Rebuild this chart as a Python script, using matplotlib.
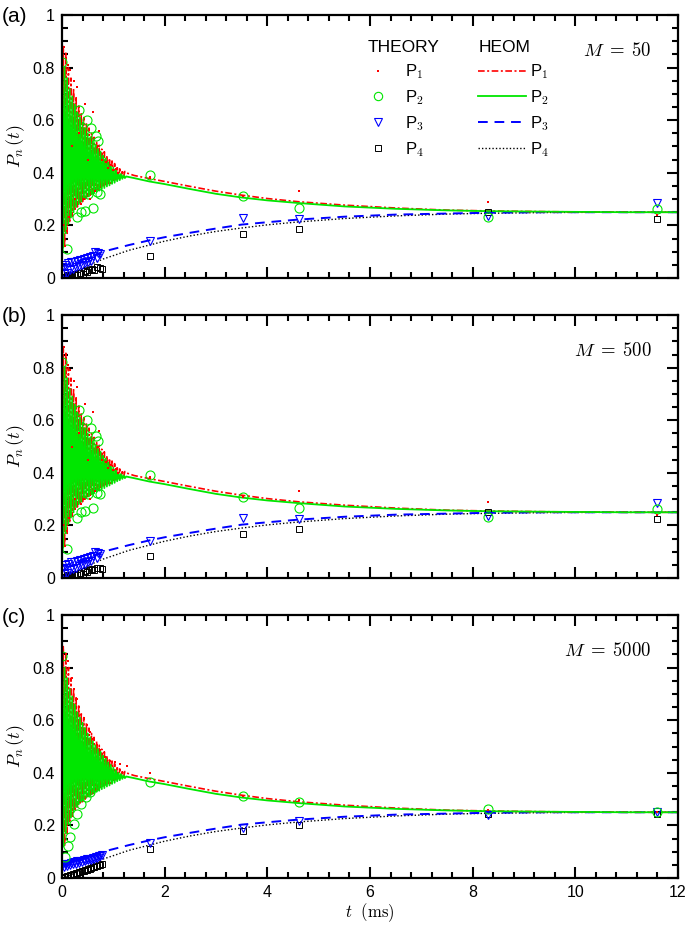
import numpy as np
import matplotlib
matplotlib.use('Agg')
import matplotlib.pyplot as plt
from matplotlib.ticker import MultipleLocator, FuncFormatter
from matplotlib.lines import Line2D

plt.rcParams['font.family'] = ['Liberation Sans', 'DejaVu Sans']
plt.rcParams['mathtext.fontset'] = 'cm'

#-----------------------------------------------------------------------------------------------------------------------
# HEOM curves (same in all panels)
#-----------------------------------------------------------------------------------------------------------------------
t_osc = np.linspace(0, 1.25, 51)
p1_osc = [0.10, 0.88, 0.12, 0.86, 0.17, 0.80, 0.21, 0.76, 0.235, 0.72, 0.255, 0.69, 0.27, 0.66, 0.28, 0.63,
          0.29, 0.61, 0.30, 0.59, 0.31, 0.57, 0.315, 0.55, 0.32, 0.535, 0.33, 0.52, 0.335, 0.505, 0.34, 0.49,
          0.345, 0.48, 0.35, 0.465, 0.355, 0.455, 0.36, 0.445, 0.365, 0.435, 0.37, 0.425, 0.375, 0.415,
          0.38, 0.41, 0.385, 0.405, 0.40]
p2_osc = [0.85, 0.12, 0.80, 0.17, 0.76, 0.205, 0.72, 0.23, 0.69, 0.25, 0.66, 0.27, 0.63, 0.28, 0.61, 0.29,
          0.59, 0.30, 0.57, 0.305, 0.55, 0.31, 0.535, 0.318, 0.52, 0.322, 0.505, 0.328, 0.49, 0.332, 0.48, 0.338,
          0.465, 0.342, 0.455, 0.348, 0.44, 0.352, 0.43, 0.358, 0.42, 0.362, 0.41, 0.368, 0.40, 0.372,
          0.395, 0.377, 0.39, 0.38, 0.386]
t_tail = [1.4, 1.7, 2.0, 2.5, 3.0, 3.5, 4.0, 4.6, 5.5, 6.5, 7.5, 8.3, 9.5, 11.0, 12.0]
p1_tail = [0.39, 0.378, 0.367, 0.348, 0.33, 0.315, 0.302, 0.29, 0.277, 0.266, 0.258, 0.255, 0.252, 0.25, 0.25]
p2_tail = [0.38, 0.367, 0.357, 0.338, 0.32, 0.306, 0.295, 0.285, 0.272, 0.263, 0.257, 0.254, 0.252, 0.25, 0.25]

t_slow = [0, 0.2, 0.4, 0.6, 0.8, 1.0, 1.3, 1.7, 2.0, 2.5, 3.0, 3.5, 4.0, 4.6, 5.5, 6.5, 7.5, 8.3, 9.5, 11.0, 12.0]
p3_heom = [0.045, 0.055, 0.07, 0.085, 0.10, 0.11, 0.125, 0.143, 0.155, 0.172, 0.188, 0.203, 0.212, 0.222,
           0.233, 0.241, 0.245, 0.248, 0.25, 0.25, 0.25]
p4_heom = [0.0, 0.015, 0.035, 0.055, 0.072, 0.085, 0.105, 0.125, 0.14, 0.16, 0.177, 0.19, 0.202, 0.213,
           0.226, 0.236, 0.243, 0.246, 0.249, 0.25, 0.25]

#-----------------------------------------------------------------------------------------------------------------------
# Theory points, panels (a) and (b) (M = 50, 500)
#-----------------------------------------------------------------------------------------------------------------------
t1_ab = [0.02, 0.04, 0.06, 0.08, 0.10, 0.12, 0.14, 0.16, 0.19, 0.23, 0.25, 0.30, 0.34, 0.38, 0.42, 0.45, 0.50,
         0.55, 0.60, 0.65, 0.70, 0.73, 0.78, 0.85, 0.90, 0.95, 1.00, 1.05, 1.10, 1.72, 3.53, 4.62, 8.3, 11.6]
p1_ab = [0.20, 0.88, 0.12, 0.85, 0.18, 0.81, 0.23, 0.79, 0.50, 0.75, 0.30, 0.726, 0.55, 0.28, 0.30, 0.663,
         0.45, 0.30, 0.63, 0.33, 0.50, 0.56, 0.45, 0.44, 0.42, 0.43, 0.41, 0.415, 0.40, 0.385, 0.31, 0.33, 0.29, 0.24]
t2_ab = [0.0, 0.09, 0.29, 0.33, 0.37, 0.45, 0.48, 0.51, 0.56, 0.60, 0.66, 0.68, 0.71, 0.75,
         1.72, 3.53, 4.62, 8.3, 11.6]
p2_ab = [0.82, 0.11, 0.23, 0.64, 0.25, 0.255, 0.60, 0.32, 0.57, 0.265, 0.54, 0.325, 0.52, 0.32,
         0.39, 0.31, 0.265, 0.232, 0.262]
t3_ab = [0.0, 0.03, 0.06, 0.09, 0.12, 0.15, 0.18, 0.21, 0.24, 0.27, 0.30, 0.33, 0.36, 0.39, 0.42, 0.45, 0.48,
         0.51, 0.54, 0.57, 0.60, 0.64, 0.68, 0.71, 0.75, 1.72, 3.53, 4.62, 8.3, 11.6]
p3_ab = [0.04, 0.015, 0.05, 0.02, 0.055, 0.03, 0.06, 0.035, 0.062, 0.04, 0.065, 0.045, 0.07, 0.05, 0.072,
         0.055, 0.075, 0.06, 0.08, 0.065, 0.085, 0.098, 0.075, 0.094, 0.09, 0.14, 0.228, 0.224, 0.235, 0.285]
t4_ab = [0.0, 0.03, 0.06, 0.09, 0.12, 0.15, 0.20, 0.25, 0.30, 0.35, 0.40, 0.45, 0.48, 0.52, 0.58, 0.62, 0.68,
         0.74, 0.77, 1.72, 3.53, 4.62, 8.3, 11.6]
p4_ab = [0.0, 0.005, 0.003, 0.01, 0.006, 0.012, 0.008, 0.015, 0.01, 0.02, 0.015, 0.025, 0.024, 0.03, 0.033,
         0.03, 0.04, 0.037, 0.035, 0.084, 0.167, 0.186, 0.25, 0.224]

#-----------------------------------------------------------------------------------------------------------------------
# Theory points, panel (c) (M = 5000)
#-----------------------------------------------------------------------------------------------------------------------
t1_c = [0.0, 0.07, 0.11, 0.14, 0.19, 0.23, 0.29, 0.33, 0.42, 0.48, 0.55, 0.61, 0.68, 0.74, 0.84, 0.94, 1.03,
        1.13, 1.26, 1.72, 3.53, 4.62, 8.3, 11.6]
p1_c = [0.10, 0.853, 0.825, 0.80, 0.76, 0.72, 0.68, 0.65, 0.61, 0.58, 0.555, 0.53, 0.504, 0.485, 0.46, 0.446,
        0.44, 0.433, 0.427, 0.40, 0.31, 0.295, 0.26, 0.25]
t2_c = [0.0, 0.06, 0.12, 0.16, 0.24, 0.30, 0.38, 0.46, 0.55, 0.63, 0.70, 0.77, 1.72, 3.53, 4.62, 8.3, 11.6]
p2_c = [0.844, 0.08, 0.12, 0.157, 0.205, 0.245, 0.28, 0.307, 0.327, 0.346, 0.36, 0.37, 0.365, 0.31, 0.29,
        0.262, 0.25]
t34_c = [0.0, 0.03, 0.06, 0.09, 0.12, 0.15, 0.18, 0.21, 0.24, 0.27, 0.30, 0.33, 0.36, 0.39, 0.42, 0.45, 0.48,
         0.51, 0.54, 0.57, 0.60, 0.63, 0.66, 0.69, 0.72, 0.75, 0.78, 1.72, 3.53, 4.62, 8.3, 11.6]
p3_c = [0.048, 0.040, 0.052, 0.045, 0.055, 0.049, 0.058, 0.052, 0.060, 0.055, 0.063, 0.058, 0.066, 0.061,
        0.068, 0.064, 0.071, 0.067, 0.074, 0.070, 0.077, 0.073, 0.080, 0.076, 0.083, 0.085, 0.087,
        0.133, 0.19, 0.215, 0.24, 0.25]
p4_c = [0.0, 0.004, 0.004, 0.007, 0.008, 0.010, 0.012, 0.014, 0.016, 0.018, 0.020, 0.022, 0.024, 0.026,
        0.028, 0.030, 0.032, 0.034, 0.036, 0.038, 0.040, 0.042, 0.044, 0.046, 0.048, 0.050, 0.052,
        0.11, 0.177, 0.20, 0.245, 0.245]

panels = [
    ('(a)', 50, (t1_ab, p1_ab), (t2_ab, p2_ab), (t3_ab, p3_ab), (t4_ab, p4_ab)),
    ('(b)', 500, (t1_ab, p1_ab), (t2_ab, p2_ab), (t3_ab, p3_ab), (t4_ab, p4_ab)),
    ('(c)', 5000, (t1_c, p1_c), (t2_c, p2_c), (t34_c, p3_c), (t34_c, p4_c)),
]

RED = '#ff0000'
GREEN = '#00e600'
BLUE = '#0000ff'

t_fast = np.concatenate([t_osc, t_tail])
p1_heom = np.concatenate([p1_osc, p1_tail])
p2_heom = np.concatenate([p2_osc, p2_tail])

fig = plt.figure(figsize=(6.85, 9.25), dpi=100)
bottoms = [0.6995, 0.3751, 0.0508]
label_y = [0.992, 0.668, 0.343]

for k, (tag, M, s1, s2, s3, s4) in enumerate(panels):
    ax = fig.add_axes([0.0905, bottoms[k], 0.8993, 0.2843])

    # HEOM curves
    ax.plot(t_slow, p4_heom, color='black', lw=1.0, dashes=(1, 1.5))
    ax.plot(t_slow, p3_heom, color=BLUE, lw=1.4, dashes=(5, 3.5))
    ax.plot(t_fast, p1_heom, color=RED, lw=1.2, dashes=(4, 1.5, 1.2, 1.5))
    ax.plot(t_fast, p2_heom, color=GREEN, lw=1.3)

    # theory points
    ax.plot(s4[0], s4[1], ls='none', marker='s', ms=4.5, mfc='none', mec='black', mew=0.7)
    ax.plot(s3[0], s3[1], ls='none', marker='v', ms=6, mfc='none', mec=BLUE, mew=0.8)
    ax.plot(s2[0], s2[1], ls='none', marker='o', ms=6.5, mfc='none', mec=GREEN, mew=0.8)
    ax.plot(s1[0], s1[1], ls='none', marker='s', ms=2, mfc=RED, mec=RED, mew=0)

    ax.set_xlim(0, 12)
    ax.set_ylim(0, 1)
    ax.xaxis.set_major_locator(MultipleLocator(2))
    ax.xaxis.set_minor_locator(MultipleLocator(0.4))
    ax.yaxis.set_major_locator(MultipleLocator(0.2))
    ax.yaxis.set_minor_locator(MultipleLocator(0.05))
    ax.yaxis.set_major_formatter(FuncFormatter(lambda v, p: '%g' % round(v, 2)))
    ax.xaxis.set_major_formatter(FuncFormatter(lambda v, p: '%g' % v))
    ax.tick_params(which='both', direction='in', top=True, right=True, labelsize=11.5, width=1.5)
    ax.tick_params(which='major', length=8, pad=5)
    ax.tick_params(which='minor', length=4)
    for sp in ax.spines.values():
        sp.set_linewidth(1.6)
    if k < 2:
        ax.tick_params(labelbottom=False)
    else:
        ax.set_xlabel(r'$t\ \ (\mathrm{ms})$', fontsize=12, labelpad=1)
    ax.set_ylabel(r'$P_n\,(t)$', fontsize=13, labelpad=4)

    ax.text(0.957, 0.862, r'$M\;=\;%d$' % M, transform=ax.transAxes, ha='right', va='center', fontsize=13.5)
    fig.text(0.003, label_y[k], tag, ha='left', va='top', fontsize=15)

    if k == 0:
        th = [Line2D([], [], ls='none', marker='s', ms=2, mfc=RED, mec=RED, mew=0),
              Line2D([], [], ls='none', marker='o', ms=6, mfc='none', mec=GREEN, mew=0.8),
              Line2D([], [], ls='none', marker='v', ms=6, mfc='none', mec=BLUE, mew=0.8),
              Line2D([], [], ls='none', marker='s', ms=4.5, mfc='none', mec='black', mew=0.7)]
        he = [Line2D([], [], color=RED, lw=1.2, dashes=(4, 1.5, 1.2, 1.5)),
              Line2D([], [], color=GREEN, lw=1.3),
              Line2D([], [], color=BLUE, lw=1.4, dashes=(5, 3.5)),
              Line2D([], [], color='black', lw=1.0, dashes=(1, 1.5))]
        names = [r'P$_\mathsf{1}$', r'P$_\mathsf{2}$', r'P$_\mathsf{3}$', r'P$_\mathsf{4}$']
        leg1 = ax.legend(th, names, title='THEORY', loc='upper left', bbox_to_anchor=(0.483, 0.935),
                         frameon=False, fontsize=12, title_fontsize=12.5, handlelength=1.2,
                         handletextpad=1.0, labelspacing=0.42, borderpad=0)
        leg1._legend_box.align = 'left'
        ax.add_artist(leg1)
        leg2 = ax.legend(he, names, title='HEOM', loc='upper left', bbox_to_anchor=(0.662, 0.935),
                         frameon=False, fontsize=12, title_fontsize=12.5, handlelength=2.9,
                         handletextpad=0.2, labelspacing=0.42, borderpad=0)
        leg2._legend_box.align = 'left'

fig.savefig('out.png', dpi=100)
